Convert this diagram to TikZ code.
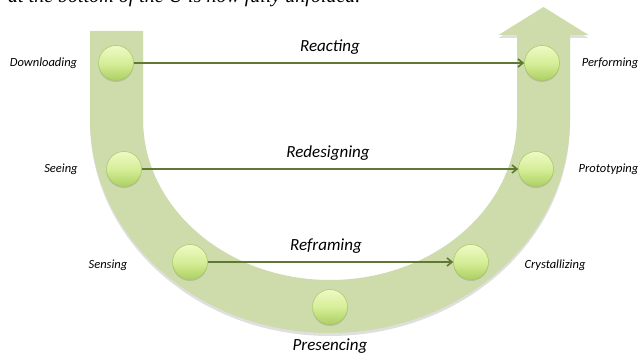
\documentclass[tikz,border=0pt]{standalone}
\usepackage{fontspec}
\setmainfont{Carlito}
\newfontfamily\capfont{Liberation Serif}
\usetikzlibrary{arrows.meta,shadows}
\definecolor{band}{RGB}{206,219,171}
\definecolor{linkgreen}{RGB}{95,120,52}
\definecolor{ballhi}{RGB}{238,250,196}
\definecolor{ballmid}{RGB}{214,238,152}
\definecolor{balllo}{RGB}{172,208,98}
\definecolor{ballrim}{RGB}{166,200,96}

\begin{document}
\begin{tikzpicture}[x=1pt,y=1pt,
stage/.style={circle,minimum size=35pt,inner sep=0pt,draw=ballrim,line width=.5pt,
  top color=ballhi,bottom color=balllo,middle color=ballmid,
  drop shadow={opacity=.3,shadow xshift=0pt,shadow yshift=-1.5pt}},
side/.style={font=\fontsize{12.5}{14}\selectfont\itshape},
move/.style={font=\fontsize{17}{20}\selectfont\itshape},
link/.style={draw=linkgreen,line width=1.6pt,-{Straight Barb[length=5pt,width=8pt]}}
]
\clip (0,0) rectangle (639,355);
\node[anchor=base west,inner sep=0pt,font=\capfont\fontsize{20}{24}\selectfont\itshape] (cap) at (8,352.2)
  {at the bottom of the U is now fully unfolded.};
% the U with the arrow head on its right leg
\fill[band,drop shadow={opacity=.25,shadow xshift=0pt,shadow yshift=-3pt}]
  (90,324) -- (90,236) arc (180:360:240 and 214) -- (570,320) -- (588.5,320)
  -- (543.5,348) -- (498.5,320) -- (517,320) -- (517,236) arc (0:-180:187 and 161)
  -- (143,324) -- cycle;
\node[stage] (dl) at (116,292) {};
\node[stage] (se) at (124,186) {};
\node[stage] (sn) at (190,93) {};
\node[stage] (pr) at (330,48) {};
\node[stage] (cr) at (471,93) {};
\node[stage] (pt) at (536,186) {};
\node[stage] (pf) at (542,292) {};
\node[side] (dl-l) at (43.5,292) {Downloading};
\node[side] (se-l) at (61,186) {Seeing};
\node[side] (sn-l) at (108,90) {Sensing};
\node[side] (cr-l) at (555,90) {Crystallizing};
\node[side] (pt-l) at (608.5,186) {Prototyping};
\node[side] (pf-l) at (610,292) {Performing};
\node[move] (pr-l) at (330,9) {Presencing};
\draw[link] (dl) -- (pf);
\draw[link] (se) -- (pt);
\draw[link] (sn) -- (cr);
\node[move] (react) at (330,308) {Reacting};
\node[move] (redesign) at (328,202) {Redesigning};
\node[move] (reframe) at (326,109) {Reframing};
\end{tikzpicture}
\end{document}
